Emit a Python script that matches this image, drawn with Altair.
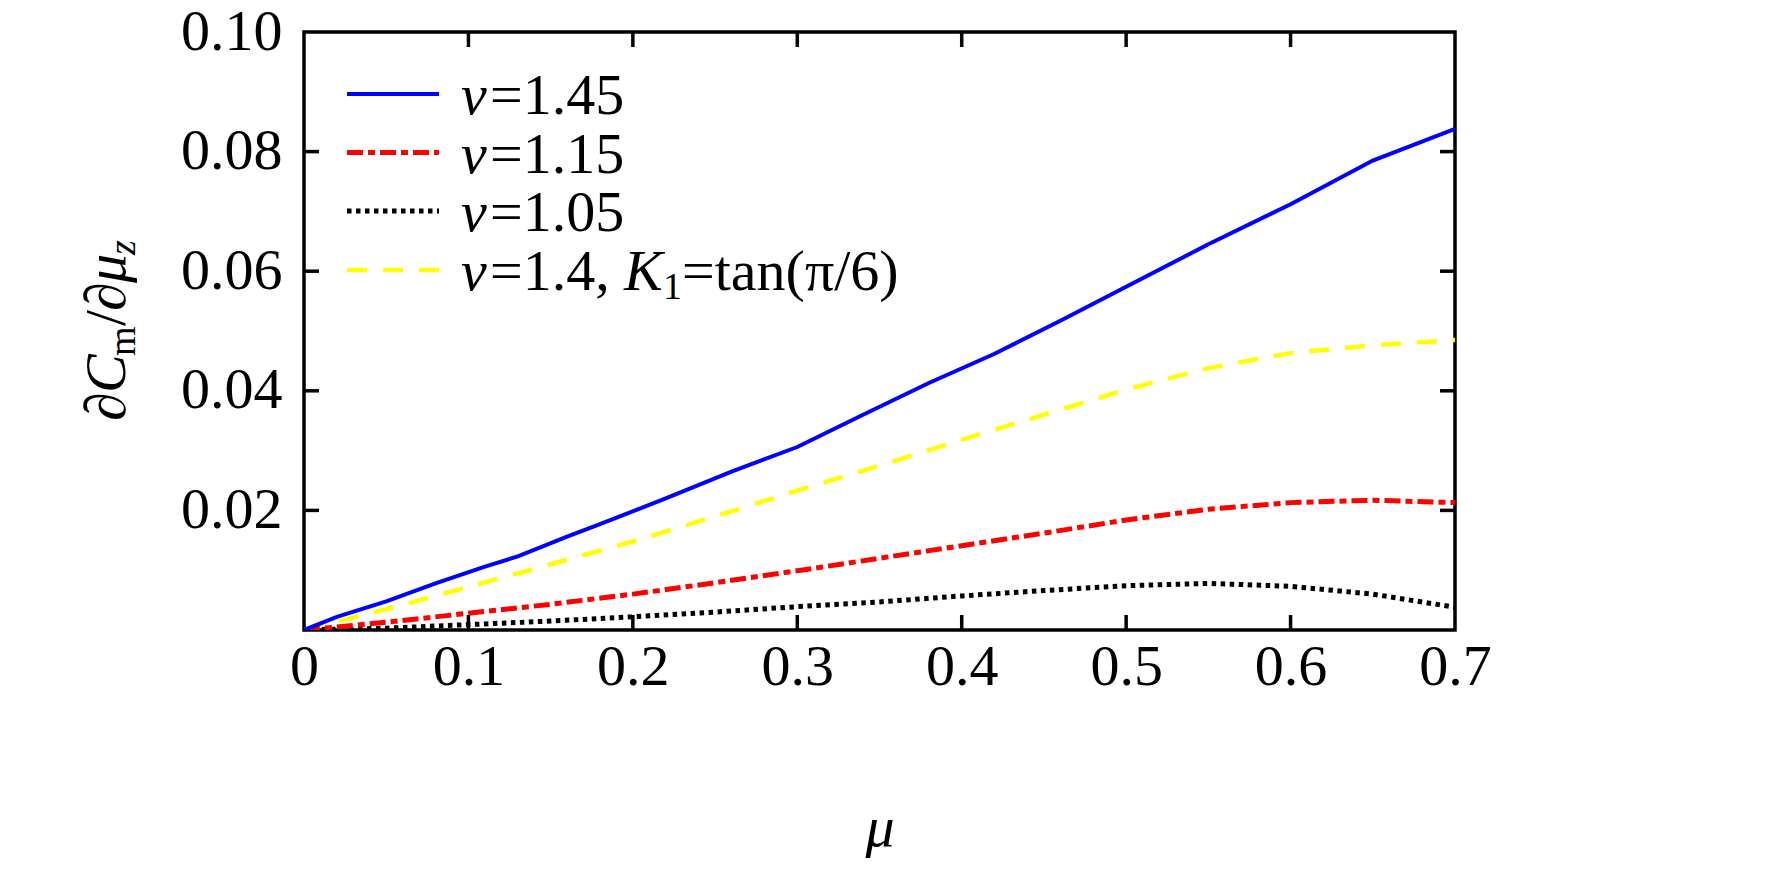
import altair as alt
import pandas as pd

# ---- data ----
mu_blue = [0, 0.02, 0.05, 0.08, 0.11, 0.13, 0.16, 0.18, 0.22, 0.26, 0.30, 0.34, 0.38, 0.42, 0.46, 0.50, 0.55, 0.60, 0.65, 0.70]
v145 = [0, 0.0022, 0.0048, 0.0078, 0.0106, 0.0123, 0.0156, 0.0177, 0.0220, 0.0265, 0.0306, 0.0360, 0.0413, 0.0462, 0.0517, 0.0574, 0.0645, 0.0712, 0.0785, 0.0838]

mu_common = [0, 0.05, 0.10, 0.15, 0.20, 0.25, 0.30, 0.35, 0.40, 0.45, 0.50, 0.55, 0.60, 0.65, 0.70]
v115 = [0, 0.0013, 0.0028, 0.0043, 0.0060, 0.0079, 0.0099, 0.0120, 0.0141, 0.0162, 0.0184, 0.0202, 0.0213, 0.0217, 0.0213]
v105 = [0, 0.0003, 0.0009, 0.0015, 0.0022, 0.0030, 0.0039, 0.0047, 0.0057, 0.0066, 0.0074, 0.0078, 0.0073, 0.0060, 0.0038]
v14k = [0, 0.0035, 0.0072, 0.0110, 0.0148, 0.0190, 0.0233, 0.0275, 0.0318, 0.0360, 0.0402, 0.0438, 0.0463, 0.0476, 0.0485]

x_ticks = [0, 0.1, 0.2, 0.3, 0.4, 0.5, 0.6, 0.7]
y_ticks = [0.02, 0.04, 0.06, 0.08, 0.10]
x_inner_ticks = [0.1, 0.2, 0.3, 0.4, 0.5, 0.6]
y_inner_ticks = [0.02, 0.04, 0.06, 0.08]

FONT = "Liberation Serif"
W, H = 1151, 598
FS = 58

xs = alt.Scale(domain=[0, 0.7], nice=False, zero=False)
ys = alt.Scale(domain=[0, 0.10], nice=False, zero=False)

X = alt.X("mu:Q", scale=xs, title="μ",
          axis=alt.Axis(values=x_ticks, format=".1~f", ticks=False, tickSize=0, domain=False, grid=False,
                        labelFont=FONT, labelFontSize=FS, labelColor="black", labelPadding=8,
                        labelFlush=False, labelOverlap=False,
                        titleFont=FONT, titleFontSize=FS, titleFontStyle="italic", titleFontWeight="normal",
                        titleColor="black", titleBaseline="alphabetic", titleY=215))
Y = alt.Y("val:Q", scale=ys, title="",
          axis=alt.Axis(values=y_ticks, format=".2f", ticks=False, tickSize=0, domain=False, grid=False,
                        labelFont=FONT, labelFontSize=FS, labelColor="black", labelPadding=22,
                        labelFlush=False, labelOverlap=False))

BLUE_W, RED_W, BLACK_W, YEL_W = 4, 5, 5, 4.5
RED_D, BLACK_D, YEL_D = [16, 5, 7, 5], [4.5, 4.5], [20, 16]


def series(xv, yv, color, width, dash):
    df = pd.DataFrame({"mu": xv, "val": yv})
    kw = dict(color=color, strokeWidth=width, clip=True)
    if dash:
        kw["strokeDash"] = dash
    return alt.Chart(df).mark_line(**kw).encode(x=X, y=Y)


blue = series(mu_blue, v145, "#0000ff", BLUE_W, None)
red = series(mu_common, v115, "#ff0000", RED_W, RED_D)
black = series(mu_common, v105, "#000000", BLACK_W, BLACK_D)
yellow = series(mu_common, v14k, "#ffff00", YEL_W, YEL_D)

# inward ticks on all four sides
txdf = pd.DataFrame({"mu": x_inner_ticks})
tydf = pd.DataFrame({"val": y_inner_ticks})
TL = 15
tick_b = alt.Chart(txdf).mark_rule(color="black", strokeWidth=3.5).encode(
    x=alt.X("mu:Q", scale=xs), y=alt.value(H), y2=alt.value(H - TL))
tick_t = alt.Chart(txdf).mark_rule(color="black", strokeWidth=3.5).encode(
    x=alt.X("mu:Q", scale=xs), y=alt.value(0), y2=alt.value(TL))
tick_l = alt.Chart(tydf).mark_rule(color="black", strokeWidth=3.5).encode(
    y=alt.Y("val:Q", scale=ys), x=alt.value(0), x2=alt.value(TL))
tick_r = alt.Chart(tydf).mark_rule(color="black", strokeWidth=3.5).encode(
    y=alt.Y("val:Q", scale=ys), x=alt.value(W), x2=alt.value(W - TL))

one = pd.DataFrame({"a": [0]})


def txt(s, x, y, size=FS, style="normal", angle=0):
    kw = dict(text=s, font=FONT, fontSize=size, fontStyle=style, color="black",
              align="left", baseline="alphabetic")
    if angle:
        kw["angle"] = angle
    return alt.Chart(one).mark_text(**kw).encode(x=alt.value(x), y=alt.value(y))


def leg_line(y, color, width, dash):
    kw = dict(color=color, strokeWidth=width)
    if dash:
        kw["strokeDash"] = dash
    return alt.Chart(one).mark_rule(**kw).encode(x=alt.value(43), x2=alt.value(135), y=alt.value(y))


rows = [62, 120.5, 179, 238]
legend = [
    leg_line(rows[0], "#0000ff", BLUE_W, None),
    leg_line(rows[1], "#ff0000", RED_W, RED_D),
    leg_line(rows[2], "#000000", BLACK_W, BLACK_D),
    leg_line(rows[3], "#ffff00", YEL_W, YEL_D),
]
labels = ["=1.45", "=1.15", "=1.05"]
for r, lab in zip(rows[:3], labels):
    legend.append(txt("v", 157, r + 20, style="italic"))
    legend.append(txt(lab, 186, r + 20))
r4 = rows[3] + 20
legend += [
    txt("v", 157, r4, style="italic"),
    txt("=1.4, ", 186, r4),
    txt("K", 320, r4, style="italic"),
    txt("1", 359, r4 + 9, size=38),
    txt("=tan(π/6)", 378, r4),
]

# rotated y-axis title: ∂C_m/∂μ_z
bx, sx = 125 - 304, 135 - 304
ytitle = [
    txt("∂", bx, 419 - 30, angle=270),
    txt("C", bx, 391 - 30, style="italic", angle=270),
    txt("m", sx, 354 - 30, size=38, angle=270),
    txt("/", bx, 324 - 30, angle=270),
    txt("∂", bx, 309 - 30, angle=270),
    txt("μ", bx, 281 - 30, style="italic", angle=270),
    txt("z", sx, 253 - 30, size=38, style="italic", angle=270),
]

chart = alt.layer(yellow, black, red, blue, tick_b, tick_t, tick_l, tick_r, *legend, *ytitle).properties(
    width=W, height=H,
    autosize=alt.AutoSizeParams(type="none"),
    padding={"left": 296, "top": 24, "right": 300, "bottom": 239},
).configure(background="white").configure_view(stroke="black", strokeWidth=3.5)

chart.save("out.html", embed_options={"renderer": "svg", "actions": False})
